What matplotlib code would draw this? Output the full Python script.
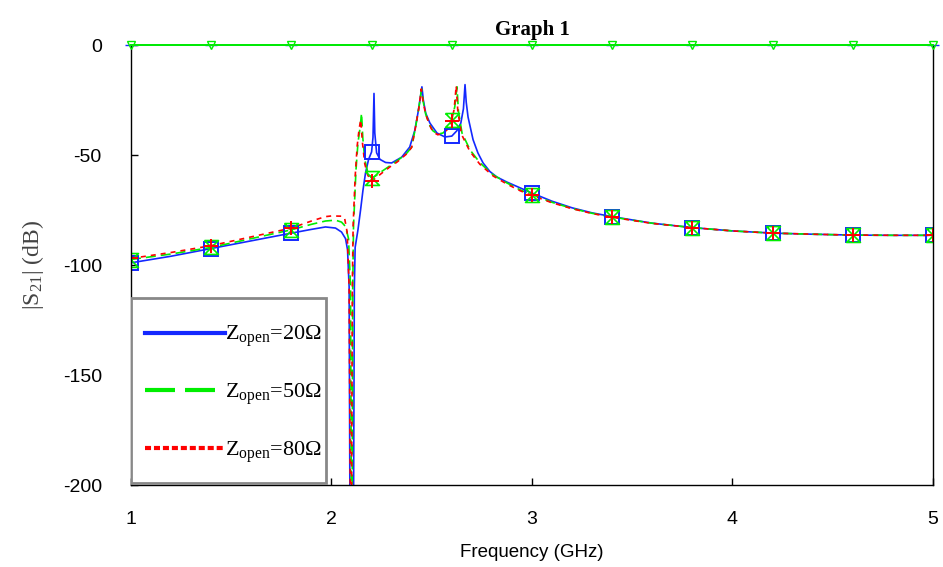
import matplotlib
matplotlib.use("Agg")
import matplotlib.pyplot as plt
from matplotlib.patches import Rectangle

plt.rcParams['font.family'] = ['Liberation Sans', 'DejaVu Sans']
plt.rcParams['axes.unicode_minus'] = False
plt.rcParams['mathtext.default'] = 'regular'

# |S21| traces for three open-stub impedances (GHz, dB)
blue_f = [1.00, 1.20, 1.40, 1.60, 1.80, 1.90, 1.97, 2.02, 2.05, 2.07, 2.08, 2.088, 2.092, 2.110,
          2.114, 2.118, 2.132, 2.145, 2.157, 2.170, 2.185, 2.200, 2.207, 2.212, 2.216, 2.225,
          2.242, 2.27, 2.30, 2.35, 2.39, 2.415, 2.431, 2.443, 2.451, 2.458, 2.470, 2.491, 2.526,
          2.566, 2.60, 2.625, 2.645, 2.658, 2.666, 2.672, 2.681, 2.706, 2.73, 2.756, 2.79, 2.825,
          2.875, 2.925, 3.0, 3.1, 3.2, 3.3, 3.4, 3.6, 3.8, 4.0, 4.2, 4.4, 4.6, 4.8, 5.0]
blue_db = [-99.0, -96.0, -92.5, -89.0, -85.5, -83.8, -82.7, -83.2, -85.0, -88.0, -93.0, -110.0, -210.0, -210.0,
           -110.0, -92.0, -84.0, -75.0, -66.0, -58.0, -52.0, -48.6, -42.0, -22.0, -40.0, -49.0,
           -52.0, -53.4, -53.6, -51.0, -46.4, -39.0, -31.0, -24.0, -19.0, -25.0, -31.0, -35.5, -40.0,
           -41.8, -41.4, -39.0, -35.5, -29.0, -18.0, -26.0, -32.7, -43.0, -49.0, -53.6, -57.5, -60.0,
           -62.3, -64.3, -67.3, -71.0, -74.0, -76.3, -78.0, -81.0, -83.0, -84.5, -85.5, -86.0, -86.4, -86.5, -86.5]

green_f = [1.0, 1.2, 1.4, 1.6, 1.8, 1.9, 1.97, 2.02, 2.05, 2.07, 2.085, 2.095, 2.099, 2.103, 2.106,
           2.110, 2.122, 2.132, 2.142, 2.150, 2.156, 2.166, 2.18, 2.20, 2.22, 2.25, 2.29, 2.33, 2.377,
           2.40, 2.42, 2.435, 2.449, 2.458, 2.47, 2.49, 2.506, 2.53, 2.556, 2.58, 2.60, 2.615, 2.626,
           2.633, 2.651, 2.691, 2.741, 2.806, 2.875, 2.94, 3.0, 3.1, 3.2, 3.3, 3.4, 3.6, 3.8, 4.0,
           4.2, 4.4, 4.6, 4.8, 5.0]
green_db = [-97.5, -95.0, -92.0, -88.0, -84.0, -81.5, -80.0, -79.6, -80.5, -82.5, -88.0, -110.0, -210.0, -210.0, -110.0,
            -82.0, -57.0, -44.5, -38.0, -31.0, -42.0, -52.0, -57.5, -60.5, -59.5, -57.5, -55.0, -52.5, -49.0,
            -46.4, -37.0, -29.0, -20.0, -26.0, -31.5, -36.5, -39.0, -40.5, -40.0, -38.0, -34.0, -28.0, -19.0,
            -30.0, -40.0, -47.7, -53.6, -59.0, -62.7, -65.8, -68.0, -71.5, -74.3, -76.5, -78.2, -81.0, -83.0, -84.5,
            -85.5, -86.0, -86.4, -86.5, -86.5]

red_f = [1.0, 1.2, 1.4, 1.6, 1.8, 1.9, 1.97, 2.0, 2.05, 2.065, 2.078, 2.088, 2.094, 2.100, 2.104,
         2.108, 2.118, 2.128, 2.138, 2.146, 2.154, 2.166, 2.18, 2.20, 2.22, 2.25, 2.29, 2.33, 2.377,
         2.40, 2.42, 2.435, 2.448, 2.457, 2.47, 2.49, 2.506, 2.53, 2.556, 2.58, 2.60, 2.612, 2.622,
         2.630, 2.648, 2.69, 2.74, 2.806, 2.875, 2.94, 3.0, 3.1, 3.2, 3.3, 3.4, 3.6, 3.8, 4.0,
         4.2, 4.4, 4.6, 4.8, 5.0]
red_db = [-97.0, -94.3, -91.2, -87.2, -83.2, -80.0, -78.0, -77.7, -77.8, -78.5, -85.0, -110.0, -210.0, -210.0, -110.0,
          -82.0, -60.0, -46.0, -38.0, -34.0, -44.0, -54.0, -59.0, -62.0, -60.5, -58.3, -55.5, -53.0, -49.3,
          -46.5, -37.0, -29.0, -20.0, -26.0, -31.5, -36.5, -39.5, -40.8, -40.2, -38.2, -34.5, -29.0, -18.5,
          -30.0, -40.5, -48.3, -54.2, -59.5, -63.2, -66.2, -68.4, -71.7, -74.4, -76.6, -78.3, -81.1, -83.0, -84.5,
          -85.5, -86.0, -86.4, -86.5, -86.5]

# marker positions every 0.4 GHz
mark_f = [1.0, 1.4, 1.8, 2.2, 2.6, 3.0, 3.4, 3.8, 4.2, 4.6, 5.0]
blue_mark = [-99.0, -92.5, -85.5, -48.6, -41.4, -67.3, -78.0, -83.0, -85.5, -86.4, -86.5]
green_mark = [-97.5, -92.0, -84.0, -60.5, -34.0, -68.0, -78.2, -83.0, -85.5, -86.4, -86.5]
red_mark = [-97.0, -91.2, -83.2, -62.0, -34.5, -68.4, -78.3, -83.0, -85.5, -86.4, -86.5]

# reflection traces sitting on the 0 dB line
s11_f = [1.0, 1.4, 1.8, 2.2, 2.6, 3.0, 3.4, 3.8, 4.2, 4.6, 5.0]
s11_db = [0.0, 0.0, 0.0, 0.0, 0.0, 0.0, 0.0, 0.0, 0.0, 0.0, 0.0]

labels = [r'Z$_{open}$=20Ω', r'Z$_{open}$=50Ω', r'Z$_{open}$=80Ω']

BLUE = '#1428ff'
GREEN = '#00ee00'
RED = '#ff0000'

fig = plt.figure(figsize=(9.43, 5.67), dpi=100)
ax = fig.add_axes([0.1389, 0.1446, 0.8505, 0.776])

hourglass = [(-1, 1), (1, 1), (-1, -1), (1, -1), (-1, 1)]

ax.plot(blue_f, blue_db, color=BLUE, lw=1.2, label=labels[0])
ax.plot(green_f, green_db, color=GREEN, lw=1.2, dashes=(6, 3), label=labels[1])
ax.plot(red_f, red_db, color=RED, lw=1.2, dashes=(3, 3), label=labels[2])

ax.plot(mark_f, blue_mark, ls='none', marker='s', ms=10, mfc='none', mec=BLUE, mew=1.4)
ax.plot(mark_f, green_mark, ls='none', marker=hourglass, ms=10, mfc='none', mec=GREEN, mew=1.2)
ax.plot(mark_f, red_mark, ls='none', marker='+', ms=10, mec=RED, mew=1.4)

ax.plot(s11_f, s11_db, color=BLUE, lw=1.2, marker='_', ms=8, mec=BLUE, clip_on=False, zorder=4)
ax.plot(s11_f, s11_db, color=GREEN, lw=1.4, marker='v', ms=6, mfc='none', mec=GREEN,
        clip_on=False, zorder=4)

ax.set_xlim(1, 5)
ax.set_ylim(-200, 0)
ax.set_xticks([1, 2, 3, 4, 5])
ax.set_yticks([0, -50, -100, -150, -200])
ax.tick_params(direction='in', length=5, width=1, labelsize=14)
ax.tick_params(axis='y', pad=21)
ax.tick_params(axis='x', pad=19)
for sp in ax.spines.values():
    sp.set_color('black')
    sp.set_linewidth(1)
ax.spines['top'].set_visible(False)

ax.set_xlabel('Frequency (GHz)', fontsize=13.5, labelpad=11)
ax.set_ylabel(r'|S$_{21}$| (dB)', fontsize=17, family='Liberation Serif',
              color='#444444', labelpad=12)
ax.set_title('Graph 1', fontsize=15, fontweight='bold', family='Liberation Serif', pad=7)

# legend box drawn separately so it can hug the text on the right
ax.add_patch(Rectangle((0.0, 0.0045), 0.2431, 0.4205, transform=ax.transAxes,
                       facecolor='white', edgecolor='#888888', lw=2, zorder=5))
leg = ax.legend(loc='center left', bbox_to_anchor=(0.0175, 0.206), frameon=False,
                prop={'family': 'Liberation Serif', 'size': 16},
                handlelength=3.6, handletextpad=0.0, labelspacing=1.45, borderpad=0.0,
                borderaxespad=0.0)
leg.set_zorder(6)
leg_lines = leg.get_lines()
for line in leg_lines:
    line.set_linewidth(3)
leg_lines[1].set_dashes((7.2, 2.4))
leg_lines[2].set_dashes((1.45, 0.7))

fig.savefig('out.png', dpi=100, facecolor='white')
